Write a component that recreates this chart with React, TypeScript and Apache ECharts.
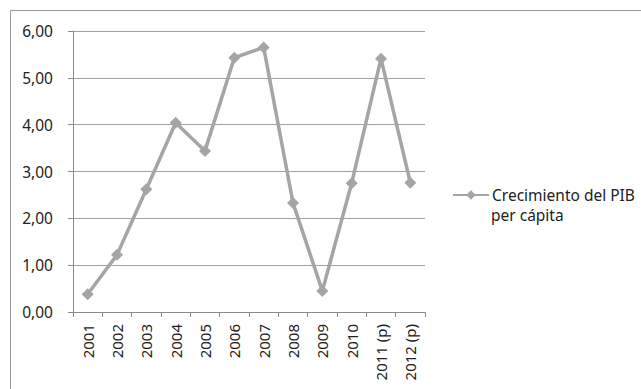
import React, { useEffect, useRef } from "react";
import * as echarts from "echarts";

const categories = ["2001", "2002", "2003", "2004", "2005", "2006", "2007", "2008", "2009", "2010", "2011 (p)", "2012 (p)"];
const values = [0.38, 1.22, 2.62, 4.04, 3.44, 5.43, 5.65, 2.33, 0.45, 2.75, 5.41, 2.76];
const seriesName = "Crecimiento del PIB";
const seriesNameLine2 = "per cápita";

export default function App() {
  const ref = useRef<HTMLDivElement>(null);
  useEffect(() => {
    document.body.style.margin = "0";
    const chart = echarts.init(ref.current!, null, { renderer: "svg" });
    const font = "'Noto Sans', sans-serif";
    chart.setOption({
      animation: false,
      backgroundColor: "#ffffff",
      textStyle: { fontFamily: font },
      graphic: [
        {
          type: "rect",
          shape: { x: 10.5, y: 10.5, width: 800, height: 600 },
          style: { fill: "none", stroke: "#9a9a9a", lineWidth: 1 },
          silent: true,
          z: -10,
        },
        {
          type: "text",
          x: 491,
          y: 215,
          style: {
            text: seriesNameLine2,
            font: "15.5px 'Noto Sans', sans-serif",
            fill: "#222222",
            verticalAlign: "middle",
            align: "left",
          },
          silent: true,
        },
      ],
      grid: { left: 73, right: 216, top: 31, bottom: 77 },
      legend: {
        left: 452,
        top: 187,
        padding: 0,
        itemWidth: 36,
        itemHeight: 12,
        itemGap: 0,
        textStyle: {
          fontFamily: font,
          fontSize: 15.5,
          color: "#222222",
          padding: [0, 0, 0, -2],
        },
        data: [seriesName],
      },
      xAxis: {
        type: "category",
        data: categories,
        boundaryGap: true,
        axisLine: { show: true, lineStyle: { color: "#8c8c8c", width: 1 } },
        axisTick: { show: true, length: 5, lineStyle: { color: "#8c8c8c" } },
        axisLabel: {
          rotate: 90,
          interval: 0,
          margin: 12,
          fontSize: 15,
          color: "#222222",
          fontFamily: font,
        },
      },
      yAxis: {
        type: "value",
        min: 0,
        max: 6,
        interval: 1,
        axisLine: { show: true, lineStyle: { color: "#8c8c8c", width: 1 } },
        axisTick: { show: true, length: 5, lineStyle: { color: "#8c8c8c" } },
        splitLine: { show: true, lineStyle: { color: "#a0a0a0", width: 1 } },
        axisLabel: {
          margin: 20,
          fontSize: 15.5,
          color: "#222222",
          fontFamily: font,
          formatter: (v: number) => v.toFixed(2).replace(".", ","),
        },
      },
      series: [
        {
          name: seriesName,
          type: "line",
          data: values,
          symbol: "diamond",
          symbolSize: 12,
          lineStyle: { color: "#a5a5a5", width: 3.5 },
          itemStyle: { color: "#a5a5a5" },
        },
      ],
    });
    return () => chart.dispose();
  }, []);
  return <div ref={ref} style={{ width: 641, height: 389 }} />;
}
